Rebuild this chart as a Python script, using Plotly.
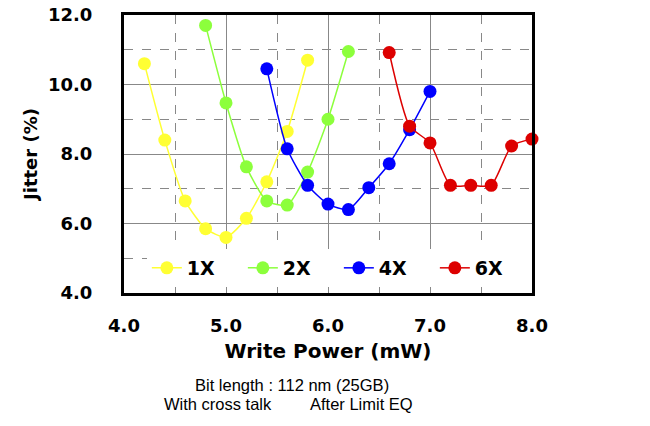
import plotly.graph_objects as go

# 書き込みパワー (mW) と Jitter (%)
power_1x = [4.2, 4.4, 4.6, 4.8, 5.0, 5.2, 5.4, 5.6, 5.8]
jitter_1x = [10.6, 8.4, 6.65, 5.85, 5.6, 6.15, 7.2, 8.65, 10.7]

power_2x = [4.8, 5.0, 5.2, 5.4, 5.6, 5.8, 6.0, 6.2]
jitter_2x = [11.7, 9.47, 7.63, 6.65, 6.53, 7.48, 9.0, 10.95]

power_4x = [5.4, 5.6, 5.8, 6.0, 6.2, 6.4, 6.6, 6.8, 7.0]
jitter_4x = [10.45, 8.15, 7.1, 6.56, 6.4, 7.03, 7.72, 8.7, 9.8]

power_6x = [6.6, 6.8, 7.0, 7.2, 7.4, 7.6, 7.8, 8.0]
jitter_6x = [10.92, 8.8, 8.32, 7.1, 7.1, 7.1, 8.23, 8.43]

series_names = ["1X", "2X", "4X", "6X"]
series_colors = ["#ffff33", "#8cff3c", "#0000ff", "#dd0000"]

x_ticks = [4.0, 5.0, 6.0, 7.0, 8.0]
y_ticks = [4.0, 6.0, 8.0, 10.0, 12.0]

bold_font = "DejaVu Sans"

fig = go.Figure()
for name, xs, ys, color in zip(
    series_names,
    [power_1x, power_2x, power_4x, power_6x],
    [jitter_1x, jitter_2x, jitter_4x, jitter_6x],
    series_colors,
):
    fig.add_trace(go.Scatter(
        x=xs, y=ys, name=name,
        mode="lines+markers",
        line=dict(color=color, width=1.5, shape="spline", smoothing=0.6),
        marker=dict(color=color, size=13),
        cliponaxis=False,
    ))

axis_common = dict(
    showline=True, linecolor="black", linewidth=3, mirror=True,
    showgrid=True, gridcolor="#888888", gridwidth=1,
    zeroline=False, automargin=False,
    ticks="outside", tickcolor="rgba(0,0,0,0)",
    ticklabeloverflow="allow",
    tickfont=dict(family=bold_font, size=18, color="black", weight="bold"),
)

# ページの余白 8px を差し引いた図のサイズ
fig.update_layout(
    width=634, height=410,
    margin=dict(l=116, r=110, t=7, b=125),
    paper_bgcolor="white", plot_bgcolor="white",
    showlegend=True,
    legend=dict(
        orientation="h",
        x=0.056, y=0.09, xanchor="left", yanchor="middle",
        bgcolor="white",
        font=dict(family=bold_font, size=19, color="black", weight="bold"),
        entrywidth=51, entrywidthmode="pixels",
        itemsizing="trace",
    ),
    xaxis=dict(
        axis_common,
        range=[4.0, 8.0],
        tickvals=x_ticks, ticktext=[f"{v:.1f}" for v in x_ticks],
        ticklen=14,
        minor=dict(dtick=0.5, tick0=4.0, showgrid=True, griddash="dash",
                   gridcolor="#888888", gridwidth=1),
        title=dict(text="Write Power (mW)", standoff=10,
                   font=dict(family=bold_font, size=20, color="black", weight="bold")),
    ),
    yaxis=dict(
        axis_common,
        range=[4.0, 12.0],
        tickvals=y_ticks, ticktext=[f"{v:.1f}" for v in y_ticks],
        ticklen=25,
        minor=dict(dtick=1.0, tick0=4.0, showgrid=True, griddash="dash",
                   gridcolor="#888888", gridwidth=1),
        title=dict(text="Jitter (%)", standoff=6,
                   font=dict(family=bold_font, size=18, color="black", weight="bold")),
    ),
)

note_font = dict(family="Liberation Sans", size=16.5, color="black")
fig.add_annotation(text="Bit length : 112 nm (25GB)", xref="paper", yref="paper",
                   x=(292 - 124) / 408, y=-(396 - 293) / 278,
                   showarrow=False, font=note_font)
fig.add_annotation(text="With cross talk", xref="paper", yref="paper",
                   x=(162 - 124) / 408, y=-(415 - 293) / 278, xanchor="left",
                   showarrow=False, font=note_font)
fig.add_annotation(text="After Limit EQ", xref="paper", yref="paper",
                   x=(308 - 124) / 408, y=-(415 - 293) / 278, xanchor="left",
                   showarrow=False, font=note_font)

fig.write_html("out.html")
